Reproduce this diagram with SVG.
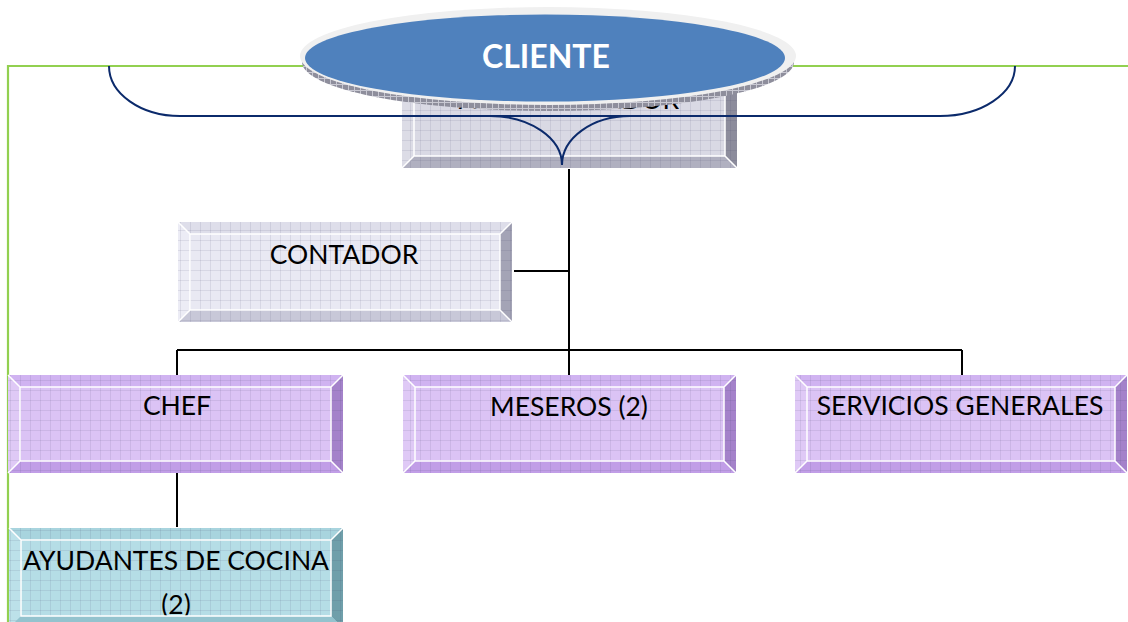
<svg xmlns="http://www.w3.org/2000/svg" width="1128" height="622" viewBox="0 0 1128 622">
  <style>
    .lbl { font-family: Lato, "Liberation Sans", sans-serif; font-size: 26.5px; fill: #000; text-anchor: middle; }
    .title { font-family: Lato, "Liberation Sans", sans-serif; font-size: 32px; font-weight: bold; fill: #fff; text-anchor: middle; }
    .edge { stroke: #fff; stroke-width: 1.5; fill: none; }
    .conn { stroke: #000; stroke-width: 2; fill: none; }
    .brace { stroke: #0b2a6b; stroke-width: 2; fill: none; }
    .purple .face { fill: #dbc3f5; } .purple .top { fill: #d0b3f1; } .purple .left { fill: #dfc9f6; }
    .purple .right { fill: #a482ca; } .purple .bottom { fill: #c19ee7; }
    .pale .face { fill: #e9e9f3; } .pale .top { fill: #dedeea; } .pale .left { fill: #ececf5; }
    .pale .right { fill: #a4a4b6; } .pale .bottom { fill: #c8c8d8; }
    .slate .face { fill: #d9d9e4; } .slate .top { fill: #cfcfdc; } .slate .left { fill: #dcdce6; }
    .slate .right { fill: #8c8c9c; } .slate .bottom { fill: #b0b0c0; }
    .teal .face { fill: #b5dde6; } .teal .top { fill: #a8d4de; } .teal .left { fill: #bce1e9; }
    .teal .right { fill: #6f9faa; } .teal .bottom { fill: #94c3ce; }
  </style>
  <defs>
    <!-- fine grid texture laid over every box -->
    <pattern id="grid" width="10" height="10" patternUnits="userSpaceOnUse">
      <path d="M0 0.5H10M0.5 0V10" stroke="#3c3c64" stroke-opacity="0.1" stroke-width="1"/>
    </pattern>
    <pattern id="hatch" width="6" height="6" patternUnits="userSpaceOnUse">
      <rect width="6" height="6" fill="#8e8e9c"/>
      <path d="M0 0.5H6M0.5 0V6" stroke="#c8c8d2" stroke-width="1"/>
    </pattern>
  </defs>

  <!-- green frame -->
  <path d="M8 622V66H1128" stroke="#92d050" stroke-width="2.2" fill="none"/>

  <!-- ADMINISTRADOR (mostly covered by the client ellipse) -->
  <g id="administrador" class="slate">
    <rect class="face" x="402" y="70" width="335" height="98"/>
    <polygon class="top" points="402,70 737,70 725,82 414,82"/>
    <polygon class="left" points="402,70 414,82 414,156 402,168"/>
    <polygon class="right" points="737,70 737,168 725,156 725,82"/>
    <polygon class="bottom" points="402,168 737,168 725,156 414,156"/>
    <rect x="402" y="70" width="335" height="98" fill="url(#grid)"/>
    <path class="edge" d="M414 82H725V156H414Z M402 70L414 82 M737 70L725 82 M402 168L414 156 M737 168L725 156"/>
    <text class="lbl" x="569" y="109">ADMINISTRADOR</text>
  </g>

  <!-- brace -->
  <g id="brace">
    <path class="brace" d="M109 66A71 50 0 0 0 180 116H940A75 50 0 0 0 1015 66"/>
    <path class="brace" d="M490 116A72 49 0 0 1 562 165A68 49 0 0 1 630 116"/>
  </g>

  <!-- CLIENTE -->
  <g id="cliente">
    <ellipse cx="548" cy="62" rx="246" ry="49" fill="url(#hatch)"/>
    <ellipse cx="548" cy="56" rx="248" ry="49" fill="#f0f0f0"/>
    <ellipse cx="545" cy="58" rx="240" ry="43.5" fill="#4f81bd"/>
    <text class="title" x="546" y="68">CLIENTE</text>
  </g>

  <!-- connectors -->
  <g id="connectors">
    <path class="conn" d="M569 169V350 M514 271H569 M177 350H962 M177 350V375 M569 350V375 M962 350V375 M177 473V527"/>
  </g>

  <g id="contador" class="pale">
    <rect class="face" x="178" y="222" width="334" height="100"/>
    <polygon class="top" points="178,222 512,222 500,234 190,234"/>
    <polygon class="left" points="178,222 190,234 190,310 178,322"/>
    <polygon class="right" points="512,222 512,322 500,310 500,234"/>
    <polygon class="bottom" points="178,322 512,322 500,310 190,310"/>
    <rect x="178" y="222" width="334" height="100" fill="url(#grid)"/>
    <path class="edge" d="M190 234H500V310H190Z M178 222L190 234 M512 222L500 234 M178 322L190 310 M512 322L500 310"/>
    <text class="lbl" x="344" y="264">CONTADOR</text>
  </g>

  <g id="chef" class="purple">
    <rect class="face" x="8" y="375" width="335" height="98"/>
    <polygon class="top" points="8,375 343,375 331,387 20,387"/>
    <polygon class="left" points="8,375 20,387 20,461 8,473"/>
    <polygon class="right" points="343,375 343,473 331,461 331,387"/>
    <polygon class="bottom" points="8,473 343,473 331,461 20,461"/>
    <rect x="8" y="375" width="335" height="98" fill="url(#grid)"/>
    <path class="edge" d="M20 387H331V461H20Z M8 375L20 387 M343 375L331 387 M8 473L20 461 M343 473L331 461"/>
    <text class="lbl" x="177" y="415">CHEF</text>
  </g>

  <g id="meseros" class="purple">
    <rect class="face" x="403" y="375" width="333" height="98"/>
    <polygon class="top" points="403,375 736,375 724,387 415,387"/>
    <polygon class="left" points="403,375 415,387 415,461 403,473"/>
    <polygon class="right" points="736,375 736,473 724,461 724,387"/>
    <polygon class="bottom" points="403,473 736,473 724,461 415,461"/>
    <rect x="403" y="375" width="333" height="98" fill="url(#grid)"/>
    <path class="edge" d="M415 387H724V461H415Z M403 375L415 387 M736 375L724 387 M403 473L415 461 M736 473L724 461"/>
    <text class="lbl" x="569" y="416">MESEROS (2)</text>
  </g>

  <g id="servicios-generales" class="purple">
    <rect class="face" x="795" y="375" width="332" height="98"/>
    <polygon class="top" points="795,375 1127,375 1115,387 807,387"/>
    <polygon class="left" points="795,375 807,387 807,461 795,473"/>
    <polygon class="right" points="1127,375 1127,473 1115,461 1115,387"/>
    <polygon class="bottom" points="795,473 1127,473 1115,461 807,461"/>
    <rect x="795" y="375" width="332" height="98" fill="url(#grid)"/>
    <path class="edge" d="M807 387H1115V461H807Z M795 375L807 387 M1127 375L1115 387 M795 473L807 461 M1127 473L1115 461"/>
    <text class="lbl" x="960" y="415">SERVICIOS GENERALES</text>
  </g>

  <g id="ayudantes" class="teal">
    <rect class="face" x="9" y="528" width="334" height="100"/>
    <polygon class="top" points="9,528 343,528 331,540 21,540"/>
    <polygon class="left" points="9,528 21,540 21,616 9,628"/>
    <polygon class="right" points="343,528 343,628 331,616 331,540"/>
    <rect x="9" y="528" width="334" height="100" fill="url(#grid)"/>
    <text class="lbl" x="176" y="570">AYUDANTES DE COCINA</text>
    <text class="lbl" x="176" y="614">(2)</text>
    <polygon class="bottom" points="9,628 343,628 331,616 21,616"/>
    <path class="edge" d="M21 540H331V616H21Z M9 528L21 540 M343 528L331 540"/>
  </g>
</svg>
